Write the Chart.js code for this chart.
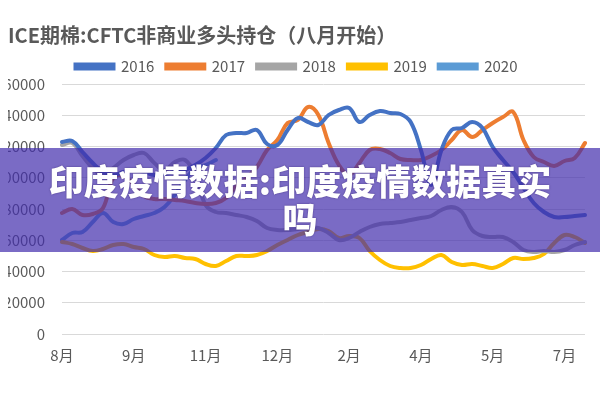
<!DOCTYPE html>
<html>
<head>
<meta charset="utf-8">
<script src="https://cdn.jsdelivr.net/npm/chart.js@4/dist/chart.umd.min.js"></script>
<style>
  html, body { margin: 0; padding: 0; background: #fff; }
  #wrap { position: relative; width: 600px; height: 400px; overflow: hidden; }
  #banner {
    position: absolute; left: 0; top: 148px; width: 600px; height: 104px;
    background: rgba(65, 44, 172, 0.7);
    color: #fff; text-align: center;
    font-family: "Noto Sans CJK SC", sans-serif; font-weight: 900; font-size: 35px;
    line-height: 38px; padding-top: 13px; box-sizing: border-box;
    text-shadow: 0 0 2px rgba(40, 20, 90, 0.6);
  }
</style>
</head>
<body>
<div id="wrap">
  <canvas id="c" width="600" height="400"></canvas>
  <div id="banner">印度疫情数据:印度疫情数据真实<br>吗</div>
</div>
<script>
// 每周一个点，共52周，从8月开始
const monthTicks = ['8月', '9月', '11月', '12月', '2月', '4月', '5月', '7月'];
const tickEvery = 7;
const weekCount = 52;
const seriesNames = ['2016', '2017', '2018', '2019', '2020'];
const seriesColors = ['#4472C4', '#ED7D31', '#A5A5A5', '#FFC000', '#5B9BD5'];

const s2016 = [122880, 123520, 116480, 109440, 103680, 101760, 103680, 104960, 103680, 101760,
  102400, 103680, 104960, 108160, 112640, 119040, 127360, 128640, 128640, 130560,
  121600, 120960, 130560, 138240, 135680, 133760, 140160, 143360, 144640, 135680,
  140160, 142720, 141440, 140800, 135680, 117760, 95360, 117760, 130560, 131840,
  135680, 131840, 119680, 111360, 103680, 93440, 83840, 78080, 74880, 74880,
  75520, 76160];
const s2017 = [77440, 80000, 76160, 76800, 80640, 99840, 101120, 95360, 88320, 86400,
  86400, 85760, 85120, 83840, 83200, 83840, 87040, 94720, 99840, 106880,
  117760, 124160, 135040, 136960, 145280, 140160, 122240, 108160, 101760, 109440,
  117760, 118400, 115840, 112000, 111360, 111360, 113920, 117760, 124160, 130560,
  126080, 130560, 135040, 138880, 142080, 124160, 113280, 110080, 107520, 110720,
  112640, 122240];
const s2018 = [120960, 122240, 113920, 106240, 101760, 106240, 111360, 114560, 115840, 109440,
  104960, 110080, 111360, 101760, 82560, 78080, 77440, 76160, 74880, 72320,
  67840, 66560, 66560, 67200, 67840, 67840, 64640, 60160, 61440, 65280,
  68480, 70400, 71040, 71680, 72960, 74240, 75520, 79360, 81280, 78080,
  66560, 62720, 62080, 62080, 58880, 53760, 52480, 53120, 52480, 53760,
  56960, 58880];
const s2019 = [58880, 57600, 55040, 53120, 54400, 56960, 57600, 55680, 54400, 50560,
  49280, 49920, 48640, 48000, 44800, 43520, 46720, 49920, 49920, 50560,
  53120, 56960, 60160, 63360, 65280, 67200, 65920, 61440, 62720, 61440,
  53120, 47360, 43520, 42240, 42240, 44160, 48000, 50560, 46080, 44160,
  44800, 43520, 42240, 44800, 48640, 48000, 48640, 51200, 58240, 63360,
  62080, 58240];
// 2020年度数据只到11月
const s2020 = [60160, 64640, 65280, 71680, 77440, 71680, 70400, 73600, 75520, 77440,
  81280, 88960, 98560, 106240, 108160, 111360];
const yTicks = { min: 0, max: 160000, step: 20000 };

const labels = [];
for (let i = 0; i < weekCount; i++) {
  labels.push(i % tickEvery === 0 ? (monthTicks[i / tickEvery] || '') : '');
}
const allSeries = [s2016, s2017, s2018, s2019, s2020];

Chart.defaults.font.family = "'Noto Sans CJK SC', 'Open Sans', sans-serif";
Chart.defaults.color = '#595959';

new Chart(document.getElementById('c'), {
  type: 'line',
  data: {
    labels: labels,
    datasets: allSeries.map((d, k) => ({
      label: seriesNames[k],
      data: d,
      borderColor: seriesColors[k],
      backgroundColor: seriesColors[k],
      borderWidth: 4,
      pointRadius: 0,
      tension: 0.4,
      borderCapStyle: 'round'
    }))
  },
  options: {
    responsive: false,
    animation: false,
    layout: { padding: { left: 8, right: 15, top: 23, bottom: 32 } },
    plugins: {
      title: {
        display: true, text: 'ICE期棉:CFTC非商业多头持仓（八月开始）',
        align: 'start', color: '#595959',
        font: { size: 20, weight: 'bold' },
        padding: { top: 0, bottom: 0 }
      },
      legend: {
        labels: { boxWidth: 38, boxHeight: 4, font: { size: 15 }, color: '#595959', padding: 12 }
      },
      tooltip: { enabled: false }
    },
    scales: {
      x: {
        grid: { display: false },
        border: { display: false },
        ticks: { autoSkip: false, maxRotation: 0, font: { size: 15 }, padding: 4 }
      },
      y: {
        min: yTicks.min, max: yTicks.max,
        afterFit: s => { s.width = 54; },
        grid: { color: '#d9d9d9', lineWidth: 1, drawTicks: false },
        border: { display: false },
        ticks: { stepSize: yTicks.step, font: { size: 15 }, padding: 17, callback: v => String(v) }
      }
    }
  }
});
</script>
</body>
</html>
